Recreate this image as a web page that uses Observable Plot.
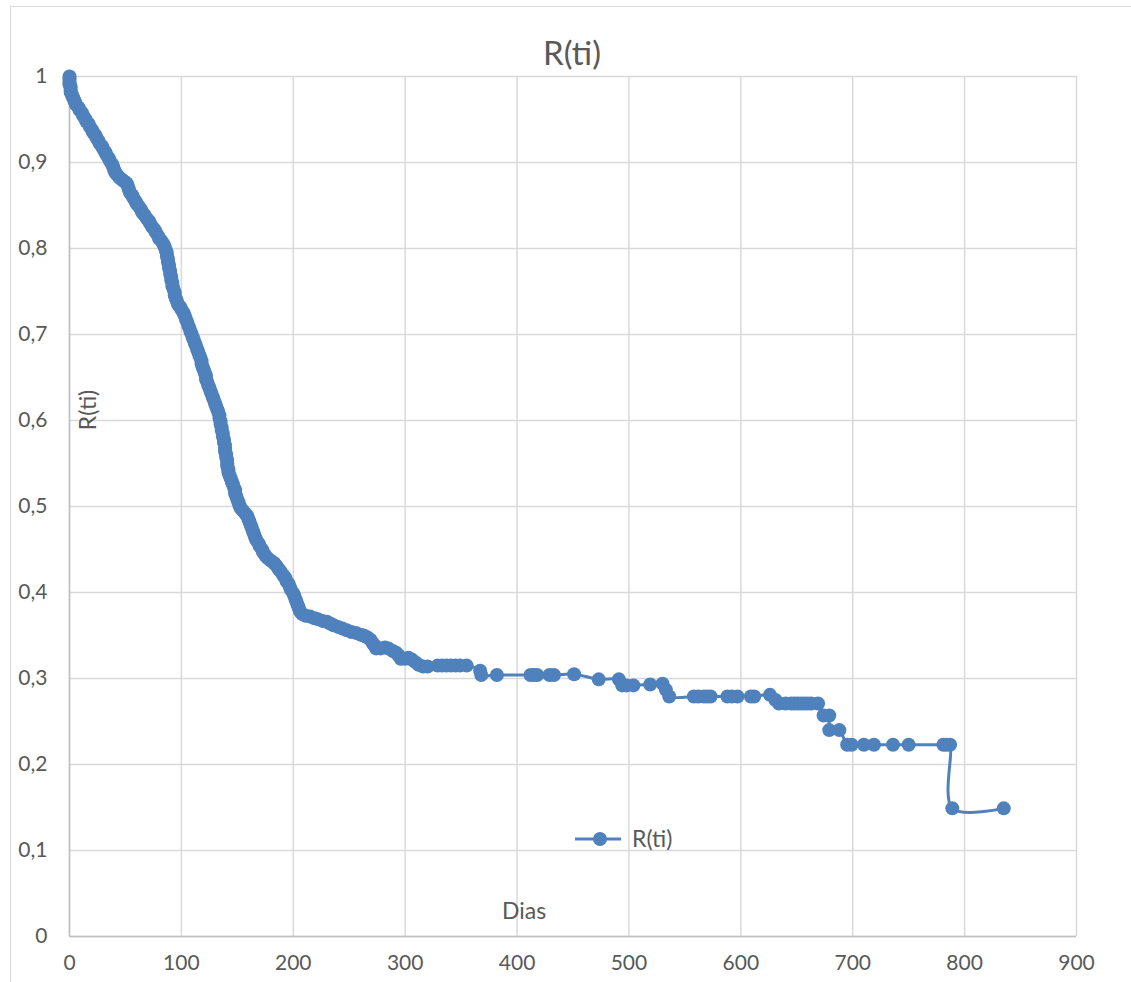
<!DOCTYPE html>
<html>
<head>
<meta charset="utf-8">
<script src="https://cdn.jsdelivr.net/npm/d3@7"></script>
<script src="https://cdn.jsdelivr.net/npm/@observablehq/plot@0.6"></script>
<style>
  body { margin: 0; background: #fff; font-family: Lato, "Open Sans", sans-serif; }
  #chart { position: relative; width: 1131px; height: 982px; overflow: hidden; background: #fff; }
  #frame { position: absolute; left: 10px; top: 6px; width: 1200px; height: 1100px; border: 1px solid #d9d9d9; box-sizing: border-box; }
  #chart svg.plot { position: absolute; left: 0; top: 0; }
  .lbl { position: absolute; color: #595959; white-space: nowrap; line-height: 1; }
  #legend { position: absolute; left: 574px; top: 827px; display: flex; align-items: center; gap: 10px; color: #595959; font-size: 23px; line-height: 1; }
</style>
</head>
<body>
<div id="chart">
  <div id="frame"></div>
</div>
<script>
// Tiempo en días y confiabilidad estimada R(ti)
const dias = [
  0, 0, 0, 0, 1, 1, 1, 2, 3, 4, 5, 6, 8, 9, 11, 12, 14, 15, 17, 18,
  20, 21, 23, 24, 26, 27, 29, 30, 32, 33, 35, 36, 38, 39, 40, 41, 43, 45, 47, 49,
  51, 52, 53, 54, 56, 57, 59, 60, 62, 64, 65, 67, 69, 71, 72, 74, 76, 77, 79, 80,
  82, 84, 85, 86, 87, 87, 88, 88, 89, 89, 90, 90, 91, 91, 92, 92, 93, 94, 94, 95,
  96, 97, 99, 100, 102, 103, 104, 105, 106, 107, 108, 109, 110, 111, 112, 113, 114, 115, 116, 117,
  118, 118, 119, 120, 121, 122, 122, 123, 124, 125, 126, 127, 128, 129, 130, 131, 132, 133, 134, 134,
  135, 135, 136, 136, 137, 137, 138, 138, 139, 139, 139, 140, 140, 141, 141, 141, 142, 142, 143, 144,
  145, 146, 147, 148, 148, 149, 150, 151, 152, 153, 155, 157, 159, 160, 161, 162, 163, 164, 165, 166,
  167, 169, 170, 172, 173, 175, 177, 180, 183, 185, 187, 189, 191, 193, 194, 196, 197, 198, 200, 201,
  202, 203, 204, 205, 206, 208, 211, 215, 219, 222, 226, 230, 233, 236, 240, 244, 248, 252, 256, 260,
  263, 266, 269, 271, 273, 274, 278, 282, 285, 289, 292, 294, 296, 300, 303, 306, 309, 312, 316, 320,
  329, 333, 337, 341, 345, 349, 355, 367, 368, 382, 412, 415, 418, 429, 433, 451, 473, 491, 494, 498,
  504, 519, 530, 533, 536, 558, 562, 567, 570, 573, 588, 592, 597, 609, 612, 626, 631, 634, 640, 645,
  648, 651, 654, 657, 660, 663, 669, 674, 679, 679, 688, 695, 699, 710, 719, 736, 750, 781, 784, 787,
  789, 835
];
const rti = [
  1.000, 0.997, 0.994, 0.991, 0.988, 0.985, 0.982, 0.979, 0.976, 0.973, 0.970, 0.967, 0.964, 0.961, 0.958, 0.955, 0.951, 0.948, 0.945, 0.942,
  0.938, 0.935, 0.932, 0.929, 0.925, 0.922, 0.919, 0.916, 0.912, 0.909, 0.905, 0.902, 0.898, 0.895, 0.891, 0.888, 0.885, 0.882, 0.880, 0.878,
  0.876, 0.873, 0.869, 0.865, 0.862, 0.859, 0.855, 0.852, 0.849, 0.845, 0.842, 0.839, 0.835, 0.832, 0.829, 0.825, 0.822, 0.819, 0.815, 0.812,
  0.809, 0.805, 0.802, 0.798, 0.795, 0.791, 0.788, 0.784, 0.781, 0.777, 0.774, 0.770, 0.767, 0.763, 0.760, 0.756, 0.753, 0.749, 0.746, 0.742,
  0.739, 0.735, 0.732, 0.729, 0.725, 0.722, 0.718, 0.715, 0.711, 0.708, 0.704, 0.701, 0.697, 0.694, 0.690, 0.687, 0.683, 0.680, 0.676, 0.673,
  0.669, 0.666, 0.662, 0.659, 0.655, 0.652, 0.648, 0.645, 0.641, 0.638, 0.634, 0.631, 0.627, 0.624, 0.620, 0.617, 0.613, 0.610, 0.606, 0.603,
  0.599, 0.596, 0.592, 0.589, 0.585, 0.582, 0.578, 0.575, 0.571, 0.568, 0.564, 0.561, 0.557, 0.554, 0.550, 0.547, 0.543, 0.540, 0.536, 0.533,
  0.529, 0.526, 0.522, 0.519, 0.515, 0.512, 0.508, 0.505, 0.501, 0.498, 0.495, 0.492, 0.489, 0.485, 0.482, 0.478, 0.475, 0.471, 0.468, 0.464,
  0.461, 0.457, 0.454, 0.450, 0.447, 0.443, 0.440, 0.437, 0.434, 0.431, 0.427, 0.424, 0.420, 0.417, 0.413, 0.410, 0.406, 0.403, 0.399, 0.396,
  0.392, 0.389, 0.385, 0.382, 0.378, 0.375, 0.373, 0.372, 0.370, 0.369, 0.367, 0.366, 0.364, 0.362, 0.360, 0.358, 0.356, 0.354, 0.353, 0.351,
  0.350, 0.348, 0.345, 0.341, 0.338, 0.335, 0.335, 0.336, 0.335, 0.332, 0.330, 0.327, 0.323, 0.323, 0.324, 0.322, 0.319, 0.316, 0.314, 0.314,
  0.315, 0.315, 0.315, 0.315, 0.315, 0.315, 0.315, 0.309, 0.304, 0.304, 0.304, 0.304, 0.304, 0.304, 0.304, 0.305, 0.299, 0.299, 0.292, 0.292,
  0.292, 0.293, 0.294, 0.287, 0.279, 0.279, 0.279, 0.279, 0.279, 0.279, 0.279, 0.279, 0.279, 0.279, 0.279, 0.281, 0.275, 0.271, 0.271, 0.271,
  0.271, 0.271, 0.271, 0.271, 0.271, 0.271, 0.271, 0.257, 0.257, 0.240, 0.240, 0.223, 0.223, 0.223, 0.223, 0.223, 0.223, 0.223, 0.223, 0.223,
  0.149, 0.149
];

const xTicks = [0, 100, 200, 300, 400, 500, 600, 700, 800, 900];
const yTicks = [0, 0.1, 0.2, 0.3, 0.4, 0.5, 0.6, 0.7, 0.8, 0.9, 1];

const titulo = "R(ti)";
const etiquetaY = "R(ti)";
const etiquetaX = "Dias";
const serie = "R(ti)";

const azul = "#4f81bd";
const texto = "#595959";

const data = dias.map((d, i) => ({dias: d, r: rti[i]}));
const fmtY = v => String(+v.toFixed(1)).replace(".", ",");

const svg = Plot.plot({
  width: 1131,
  height: 982,
  marginLeft: 69,
  marginRight: 55,
  marginTop: 76,
  marginBottom: 46,
  style: {fontFamily: "Lato, 'Open Sans', sans-serif", fontSize: "21px", color: texto, background: "transparent"},
  x: {domain: [0, 900]},
  y: {domain: [0, 1]},
  marks: [
    Plot.gridX(xTicks, {stroke: "#d9d9d9", strokeOpacity: 1, strokeWidth: 1.5}),
    Plot.gridY(yTicks, {stroke: "#d9d9d9", strokeOpacity: 1, strokeWidth: 1.5}),
    Plot.ruleX([0], {stroke: "#bfbfbf", strokeWidth: 1.5}),
    Plot.ruleY([0], {stroke: "#bfbfbf", strokeWidth: 1.5}),
    Plot.line(data, {x: "dias", y: "r", stroke: azul, strokeWidth: 3, curve: "catmull-rom"}),
    Plot.dot(data, {x: "dias", y: "r", r: 7, fill: azul, stroke: "none"}),
    Plot.axisX(xTicks, {tickSize: 0, tickPadding: 19, label: null, tickFormat: d => String(d)}),
    Plot.axisY(yTicks, {tickSize: 0, tickPadding: 22, label: null, tickFormat: fmtY})
  ]
});
svg.classList.add("plot");

const chart = document.getElementById("chart");
chart.appendChild(svg);

function label(text, css) {
  const el = document.createElement("div");
  el.className = "lbl";
  el.textContent = text;
  Object.assign(el.style, css);
  chart.appendChild(el);
  return el;
}

label(titulo, {left: "572px", top: "52px", fontSize: "33px", transform: "translate(-50%, -50%)"});
label(etiquetaY, {left: "87px", top: "410px", fontSize: "23px", transform: "translate(-50%, -50%) rotate(-90deg)"});
label(etiquetaX, {left: "524px", top: "910px", fontSize: "23px", transform: "translate(-50%, -50%)"});

// leyenda: línea con marcador y nombre de la serie
const leg = document.createElement("div");
leg.id = "legend";
leg.innerHTML = `<svg width="48" height="16"><line x1="1" y1="8" x2="47" y2="8" stroke="${azul}" stroke-width="3"/><circle cx="26" cy="8" r="7" fill="${azul}"/></svg><span></span>`;
leg.querySelector("span").textContent = serie;
chart.appendChild(leg);
</script>
</body>
</html>
